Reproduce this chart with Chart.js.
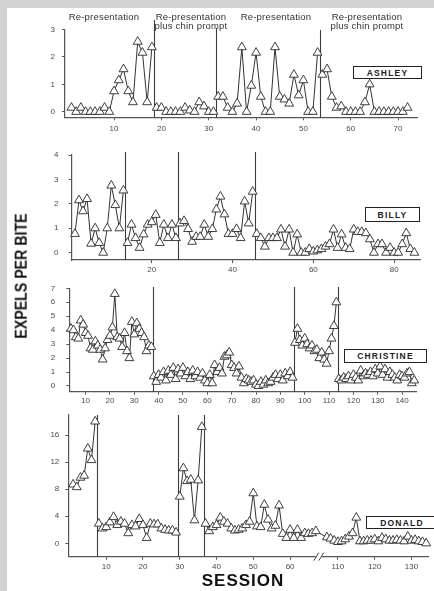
<!DOCTYPE html>
<html><head><meta charset="utf-8">
<script src="https://cdn.jsdelivr.net/npm/chart.js@4.4.0/dist/chart.umd.min.js"></script>
<style>
html,body{margin:0;padding:0;background:#fff;}
#wrap{position:relative;width:434px;height:591px;overflow:hidden;background:#fff;font-family:"Liberation Sans",Arial,sans-serif;}
.gt{position:absolute;left:0;top:0;width:434px;height:8px;background:#d2d2d2;}
.gl{position:absolute;left:0;top:0;width:7px;height:591px;background:#d2d2d2;}
canvas{position:absolute;left:0;}
.ph{position:absolute;font-size:9.5px;color:#333;text-align:center;line-height:9px;white-space:nowrap;transform:translateX(-50%);letter-spacing:0.2px;}
.nm{position:absolute;border:1.5px solid #222;background:#fff;font-weight:bold;font-size:8.5px;letter-spacing:1.2px;display:flex;align-items:center;justify-content:center;box-sizing:border-box;color:#222;}
.yt{position:absolute;font-weight:bold;font-size:16px;color:#111;white-space:nowrap;}
.xt{position:absolute;font-weight:bold;font-size:17px;color:#111;white-space:nowrap;letter-spacing:1px;transform:translate(-50%,-50%);}
</style></head>
<body>
<div id="wrap">
  <div class="gt"></div><div class="gl"></div>
</div>
<script>
// ---------------- DATA ----------------
// ASHLEY
const ashleyStarts = [1, 19, 32, 54];
const ashleyP1 = [0.15, 0, 0.15, 0, 0, 0, 0, 0.15, 0, 0.75, 1.15, 1.55, 0.75, 0.35, 2.55, 2.15, 0.35, 2.35];
const ashleyP2 = [0.15, 0.15, 0, 0, 0, 0, 0.15, 0.05, 0, 0.35, 0.2, 0, 0];
const ashleyP3 = [0.55, 0.55, 0.15, 0, 0.3, 2.35, 0, 0.95, 2.15, 0.55, 0, 0, 2.35, 0.55, 0.45, 0.3, 1.35, 0.6, 1.15, 0, 0, 2.15];
const ashleyP4 = [1.35, 1.55, 0.55, 0.15, 0.2, 0, 0, 0, 0, 0.35, 1.0, 0, 0, 0, 0, 0, 0, 0, 0.15];
const ashleyPhaseLines = [18.5, 31.5, 53.5];
const ashleyXTicks = [10, 20, 30, 40, 50, 60, 70];
const ashleyYTicks = [0, 1, 2, 3];

// BILLY
const billyStarts = [1, 14, 27, 46];
const billyP1 = [0.77, 2.15, 1.7, 2.2, 0.37, 1.0, 0.4, 0.0, 1.0, 2.75, 1.95, 1.0, 2.55];
const billyP2 = [0.4, 1.15, 0.6, 0.2, 0.75, 1.15, 1.25, 1.55, 0.4, 1.15, 0.6, 1.15, 0.6];
const billyP3 = [1.2, 1.3, 0.97, 0.45, 0.65, 0.65, 1.15, 0.65, 0.97, 1.77, 2.3, 1.57, 0.77, 0.77, 0.97, 0.6, 2.1, 1.2, 2.5];
const billyP4 = [0.77, 0.6, 0.25, 0.6, 0.6, 0.6, 0.95, 0.25, 0.95, 0, 0.75, 0, 0, 0.15, 0.05, 0.1, 0.15, 0.25, 0.35, 0.95, 0.2, 0.75, 0.2, 0.15, 0.95, 0.85, 0.85, 0.8, 0.55, 0, 0.35, 0.35, 0, 0.2, 0, 0, 0.35, 0.8, 0.15, 0];
const billyPhaseLines = [13.5, 26.5, 45.5];
const billyXTicks = [20, 40, 60, 80];
const billyYTicks = [0, 1, 2, 3, 4];

// CHRISTINE
const christineStarts = [4, 38, 96, 114];
const christineP1 = [4.1, 4.0, 3.5, 3.4, 4.7, 4.4, 3.8, 3.6, 2.7, 2.6, 3.2, 2.9, 2.6, 1.9, 2.7, 3.3, 3.6, 4.2, 6.6, 3.5, 3.4, 2.8, 3.8, 2.5, 2.0, 4.6, 3.7, 4.5, 4.1, 3.8, 3.5, 2.5, 2.9, 2.8];
const christineP2 = [0.7, 0.3, 0.8, 0.6, 1.0, 0.4, 1.1, 0.8, 1.3, 0.5, 1.2, 0.9, 1.3, 0.7, 1.0, 0.5, 1.1, 0.7, 1.0, 0.6, 0.9, 0.4, 0.2, 0.8, 0.2, 1.5, 1.0, 1.3, 0.9, 2.1, 2.2, 2.4, 1.5, 1.3, 0.9, 1.4, 0.6, 0.2, 0.5, 0.4, 0.3, 0.4, 0.1, 0.0, 0.3, 0.1, 0.4, 0.2, 0.3, 0.6, 0.8, 0.5, 0.8, 0.4, 0.9, 0.7, 1.0, 0.6];
const christineP3 = [3.1, 4.1, 3.3, 2.9, 3.4, 3.0, 2.7, 2.9, 2.5, 2.6, 2.0, 2.4, 1.9, 1.6, 2.5, 3.4, 4.3, 6.0];
const christineP4 = [0.5, 0.4, 0.6, 0.5, 0.7, 0.4, 0.8, 0.6, 0.4, 1.1, 0.7, 0.9, 0.8, 1.0, 0.7, 1.2, 0.9, 1.4, 0.8, 1.2, 0.6, 1.0, 0.8, 0.6, 0.4, 0.8, 0.7, 0.6, 0.9, 1.0, 0.2, 0.4];
const christinePhaseLines = [37.5, 95.5, 113.5];
const christineXTicks = [10, 20, 30, 40, 50, 60, 70, 80, 90, 100, 110, 120, 130, 140];
const christineYTicks = [0, 1, 2, 3, 4, 5, 6, 7];

// DONALD (sessions after the axis break are shifted left by donaldBreakShift)
const donaldStarts = [1, 8, 30, 37, 107];
const donaldP1 = [8.7, 8.3, 9.7, 10, 14, 12.3, 18];
const donaldP2 = [2.9, 2.2, 2.4, 3.1, 3.9, 2.7, 3.2, 2.9, 1.5, 2.7, 2.5, 3.6, 2.7, 0.8, 2.9, 2.8, 2.8, 2.2, 2.0, 1.9, 1.9, 1.6];
const donaldP3 = [6.9, 11.1, 9.2, 9.4, 3.4, 9.3, 17.2];
const donaldP4a = [2.9, 1.8, 2.4, 2.7, 3.8, 3.2, 2.9, 2.2, 1.9, 2.0, 2.2, 2.7, 3.2, 7.4, 2.5, 2.4, 5.7, 3.5, 2.2, 2.6, 5.6, 1.4, 0.8, 2.0, 0.8, 2.0, 0.8, 1.5, 1.4, 1.5, 1.8];
const donaldP4b = [0.9, 0.7, 0.4, 0.2, 0.3, 0.6, 1.0, 1.5, 3.8, 0.3, 0.3, 0.4, 0.4, 0.6, 0.3, 0.8, 0.6, 0.4, 0.4, 0.5, 0.4, 0.3, 1.0, 0.4, 0.5, 0.3, 0.2, 0.0];
const donaldPhaseLines = [7.5, 29.5, 36.5];
const donaldXTicks = [10, 20, 30, 40, 50, 60, 110, 120, 130];
const donaldYTicks = [0, 4, 8, 12, 16];
const donaldBreakShift = 37;
const donaldBreakAt = 67.8;

// ---------------- RENDER ----------------
const FONT = '"Liberation Sans", Arial, sans-serif';
const wrap = document.getElementById('wrap');
const donaldX = s => (s > 100 ? s - donaldBreakShift : s);
const ident = s => s;

const panels = [
  { name: 'ASHLEY', cTop: 8, cBottom: 140, L: 65, R: 417, T: 29.3, B: 117.3,
    xMin: -0.36, xMax: 74, yMin: -0.2, yMax: 3, toX: ident,
    starts: ashleyStarts, phases: [ashleyP1, ashleyP2, ashleyP3, ashleyP4], joins: [],
    lines: ashleyPhaseLines, lineTops: [20, 28, 30], xTicks: ashleyXTicks, yTicks: ashleyYTicks,
    xPad: 4, yPad: 7, box: [353, 66, 69, 13] },
  { name: 'BILLY', cTop: 140, cBottom: 280, L: 71.5, R: 420, T: 155, B: 260,
    xMin: 0.15, xMax: 86.4, yMin: -0.3, yMax: 4, toX: ident,
    starts: billyStarts, phases: [billyP1, billyP2, billyP3, billyP4], joins: [],
    lines: billyPhaseLines, lineTops: [152, 152, 152], xTicks: billyXTicks, yTicks: billyYTicks,
    xPad: 2, yPad: 10, box: [365, 207, 55, 15] },
  { name: 'CHRISTINE', cTop: 280, cBottom: 408, L: 69.3, R: 416.7, T: 288.3, B: 391.7,
    xMin: 3.3, xMax: 146, yMin: -0.41, yMax: 7, toX: ident,
    starts: christineStarts, phases: [christineP1, christineP2, christineP3, christineP4], joins: [],
    lines: christinePhaseLines, lineTops: [287, 287, 287], xTicks: christineXTicks, yTicks: christineYTicks,
    xPad: 1.5, yPad: 11, box: [344, 349, 83, 14] },
  { name: 'DONALD', cTop: 408, cBottom: 591, L: 68.3, R: 433, T: 414.7, B: 556.7,
    xMin: -0.3, xMax: 97.5, yMin: -1.98, yMax: 19, toX: donaldX,
    starts: donaldStarts, phases: [donaldP1, donaldP2, donaldP3, donaldP4a, donaldP4b], joins: [[3, 4]],
    lines: donaldPhaseLines, lineTops: [415, 415, 415], xTicks: donaldXTicks, yTicks: donaldYTicks,
    xPad: 2.5, yPad: 6, box: [366, 516, 72, 13], breakAt: donaldBreakAt }
];

const phasePlugin = {
  id: 'phaseLines',
  beforeDatasetsDraw(chart) {
    const p = chart.options.plugins.phaseLines.panel;
    const ctx = chart.ctx, xs = chart.scales.x, ca = chart.chartArea;
    ctx.save();
    ctx.strokeStyle = '#3c3c3c';
    ctx.lineWidth = 1.1;
    p.lines.forEach((v, i) => {
      const x = Math.round(xs.getPixelForValue(v)) + 0.5;
      ctx.beginPath();
      ctx.moveTo(x, p.lineTops[i] - p.cTop);
      ctx.lineTo(x, ca.bottom);
      ctx.stroke();
    });
    if (p.breakAt !== undefined) {
      const bx = xs.getPixelForValue(p.breakAt), by = ca.bottom;
      ctx.fillStyle = '#fff';
      ctx.fillRect(bx - 3, by - 2, 6, 4);
      ctx.strokeStyle = '#444';
      ctx.lineWidth = 1;
      [-2.5, 2.5].forEach(d => {
        ctx.beginPath();
        ctx.moveTo(bx + d - 2.5, by + 4);
        ctx.lineTo(bx + d + 2.5, by - 4);
        ctx.stroke();
      });
    }
    ctx.restore();
  }
};

function dsStyle() {
  return { borderColor: '#333', borderWidth: 1, pointStyle: 'triangle', pointRadius: 5.1,
    pointBackgroundColor: '#fff', pointBorderColor: '#2a2a2a', pointBorderWidth: 0.9,
    tension: 0, fill: false, clip: false, showLine: true };
}

panels.forEach(p => {
  const cv = document.createElement('canvas');
  cv.width = 434; cv.height = p.cBottom - p.cTop;
  cv.style.top = p.cTop + 'px';
  cv.style.width = '434px'; cv.style.height = (p.cBottom - p.cTop) + 'px';
  wrap.appendChild(cv);

  const groups = [];
  const joined = new Set();
  p.phases.forEach((vals, i) => {
    if (joined.has(i)) return;
    let pts = vals.map((v, j) => ({ x: p.toX(p.starts[i] + j), y: v }));
    p.joins.forEach(([a, b]) => {
      if (a === i) {
        joined.add(b);
        pts = pts.concat(p.phases[b].map((v, j) => ({ x: p.toX(p.starts[b] + j), y: v })));
      }
    });
    groups.push(Object.assign({ data: pts }, dsStyle()));
  });

  const xTickVals = p.xTicks.map(p.toX);
  new Chart(cv, {
    type: 'line',
    data: { datasets: groups },
    options: {
      responsive: false, animation: false, devicePixelRatio: 1,
      layout: { padding: { top: p.T - p.cTop, right: 434 - p.R, left: 0, bottom: 0 } },
      plugins: { legend: { display: false }, tooltip: { enabled: false }, phaseLines: { panel: p } },
      scales: {
        x: {
          type: 'linear', min: p.xMin, max: p.xMax,
          afterBuildTicks: s => { s.ticks = xTickVals.map(v => ({ value: v })); },
          afterFit: s => { s.height = p.cBottom - p.B; s.paddingLeft = 0; s.paddingRight = 0; },
          ticks: { autoSkip: false, maxRotation: 0, minRotation: 0, padding: p.xPad, color: '#4a4a4a',
            font: { family: FONT, size: 8 }, callback: (v, i) => String(p.xTicks[i]) },
          grid: { display: true, drawOnChartArea: false, drawTicks: true, tickLength: 3, tickColor: '#555', tickWidth: 1 },
          border: { display: true, color: '#555', width: 1.2 }
        },
        y: {
          type: 'linear', min: p.yMin, max: p.yMax,
          afterBuildTicks: s => { s.ticks = p.yTicks.map(v => ({ value: v })); },
          afterFit: s => { s.width = p.L; s.paddingTop = 0; s.paddingBottom = 0; },
          ticks: { padding: p.yPad, color: '#4a4a4a', font: { family: FONT, size: 8 }, callback: v => String(v) },
          grid: { display: true, drawOnChartArea: false, drawTicks: true, tickLength: 3, tickColor: '#555', tickWidth: 1 },
          border: { display: true, color: '#555', width: 1.2 }
        }
      }
    },
    plugins: [phasePlugin]
  });

  const b = document.createElement('div');
  b.className = 'nm';
  b.textContent = p.name;
  b.style.left = p.box[0] + 'px'; b.style.top = p.box[1] + 'px';
  b.style.width = p.box[2] + 'px'; b.style.height = p.box[3] + 'px';
  wrap.appendChild(b);
});

// phase labels
const phaseLabels = [
  { html: 'Re-presentation', x: 104, y: 12 },
  { html: 'Re-presentation<br>plus chin prompt', x: 191, y: 12 },
  { html: 'Re-presentation', x: 276, y: 12 },
  { html: 'Re-presentation<br>plus chin prompt', x: 367, y: 12 }
];
phaseLabels.forEach(l => {
  const d = document.createElement('div');
  d.className = 'ph';
  d.innerHTML = l.html;
  d.style.left = l.x + 'px'; d.style.top = l.y + 'px';
  wrap.appendChild(d);
});

// axis titles
const yt = document.createElement('div');
yt.className = 'yt';
yt.textContent = 'EXPELS PER BITE';
wrap.appendChild(yt);
const w = yt.offsetWidth, h = yt.offsetHeight;
const k = 125 / w;
yt.style.left = (21 - w / 2) + 'px';
yt.style.top = (276 - h / 2) + 'px';
yt.style.transform = 'rotate(-90deg) scale(' + k + ',1)';

const xt = document.createElement('div');
xt.className = 'xt';
xt.textContent = 'SESSION';
xt.style.left = '243px'; xt.style.top = '581px';
wrap.appendChild(xt);
</script>
</body></html>
